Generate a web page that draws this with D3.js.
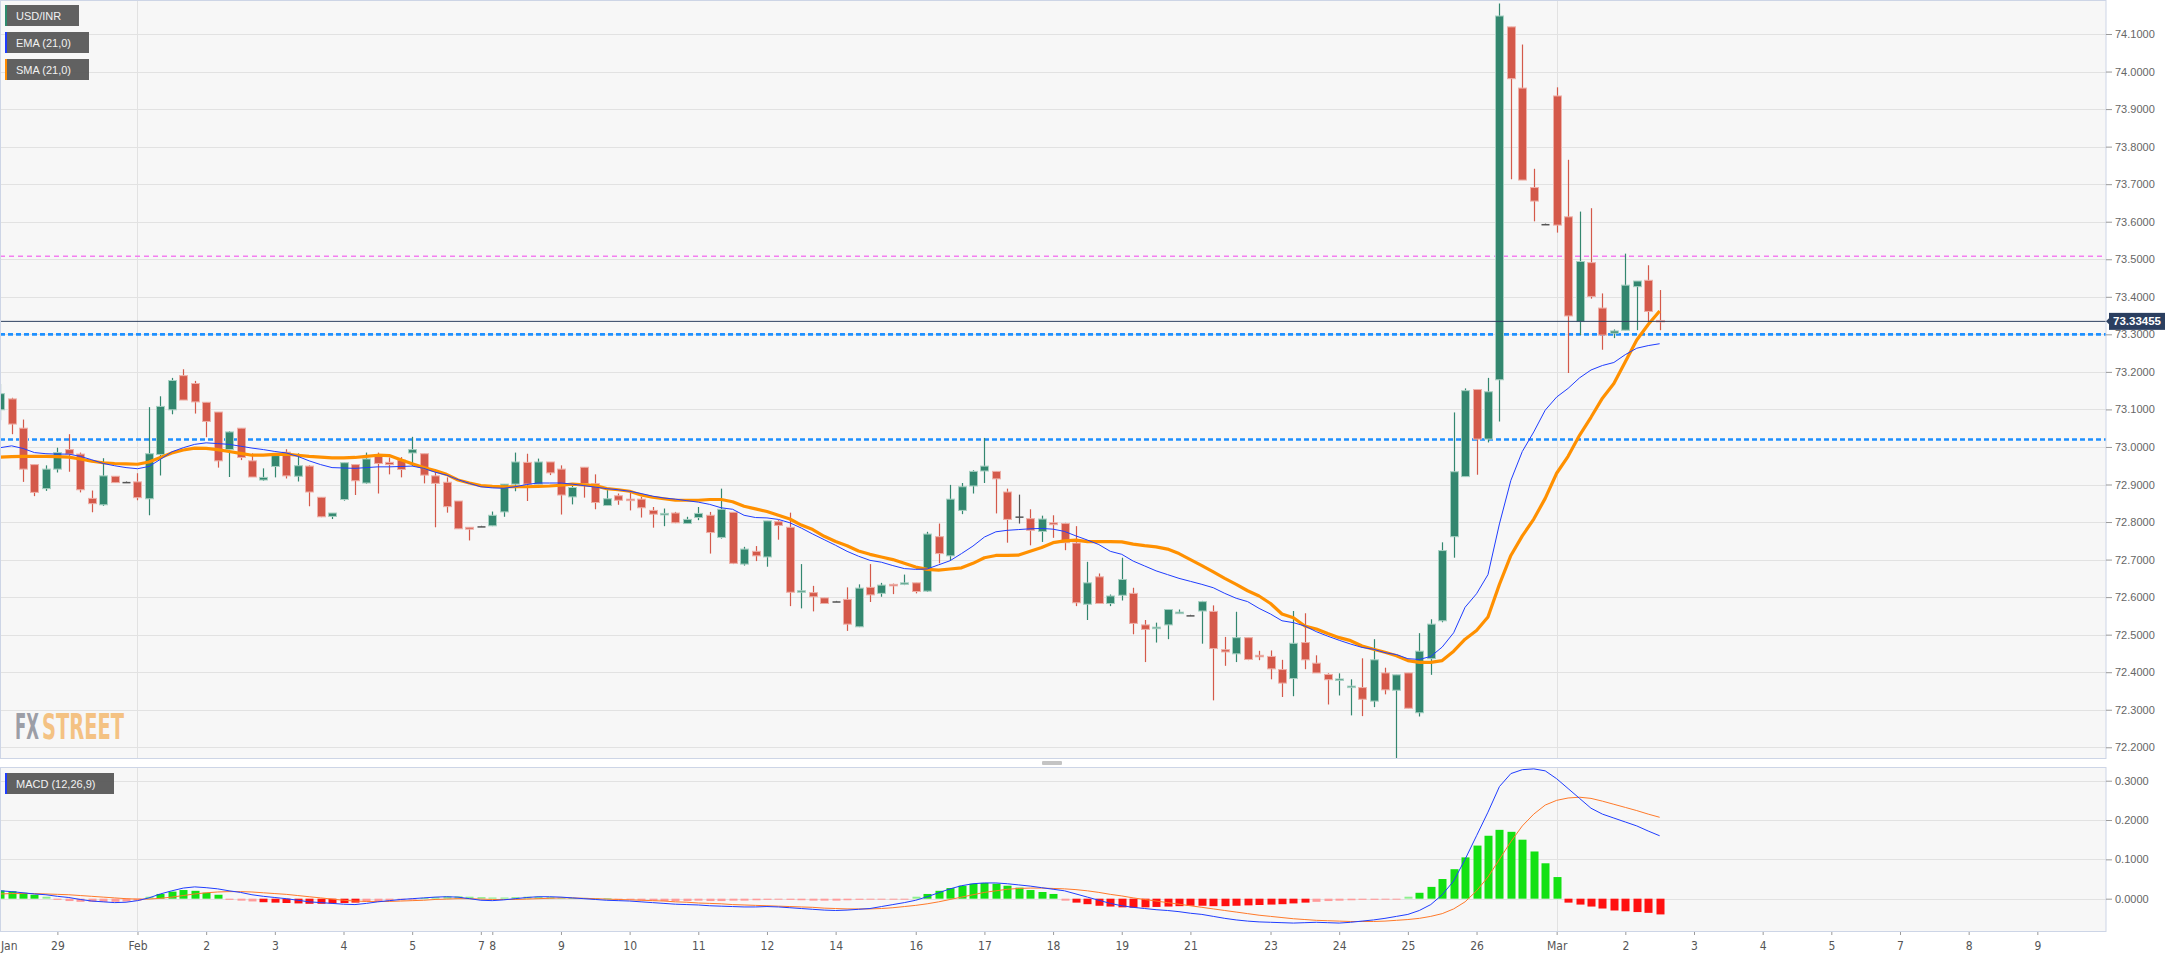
<!DOCTYPE html>
<html><head><meta charset="utf-8">
<script src="https://cdn.jsdelivr.net/npm/d3@7"></script>
<style>
body{margin:0;background:#fff;}
text{font-family:Arial,"Liberation Sans",sans-serif;}
</style>
</head><body>
<svg id="c" width="2183" height="958"></svg>
<script>
// ---------------- DATA ----------------
const opens = [73.099,73.128,73.050,72.953,72.889,72.941,72.993,72.981,72.863,72.846,72.922,72.907,72.907,72.862,72.980,73.099,73.190,73.169,73.119,73.093,
72.993,73.050,72.963,72.912,72.948,72.986,72.922,72.949,72.866,72.815,72.860,72.953,72.904,72.975,72.959,72.965,72.984,72.982,72.923,72.906,
72.856,72.786,72.789,72.790,72.827,72.901,72.959,72.901,72.960,72.941,72.867,72.946,72.902,72.844,72.870,72.861,72.861,72.831,72.821,72.824,
72.796,72.812,72.818,72.759,72.826,72.688,72.722,72.707,72.801,72.786,72.614,72.612,72.598,72.589,72.594,72.521,72.626,72.610,72.634,72.634,
72.638,72.616,72.761,72.710,72.831,72.896,72.936,72.935,72.880,72.814,72.809,72.775,72.798,72.796,72.744,72.581,72.654,72.583,72.605,72.610,
72.526,72.517,72.526,72.558,72.552,72.563,72.562,72.460,72.449,72.492,72.445,72.442,72.407,72.383,72.479,72.424,72.394,72.380,72.359,72.359,
72.323,72.398,72.352,72.398,72.292,72.436,72.537,72.761,72.921,73.153,73.021,73.179,74.119,73.956,73.691,73.594,73.935,73.613,73.334,73.491,
73.370,73.303,73.311,73.427,73.444,73.337];
const highs = [73.168,73.131,73.073,72.953,72.951,72.998,73.034,72.985,72.884,72.970,72.922,72.908,72.930,73.106,73.135,73.184,73.207,73.176,73.119,73.093,
73.042,73.050,72.983,72.943,72.981,72.994,72.983,72.951,72.866,72.824,72.958,72.953,72.985,72.985,72.972,72.973,73.027,72.982,72.938,72.919,
72.856,72.786,72.790,72.828,72.901,72.985,72.982,72.969,72.960,72.951,72.898,72.946,72.927,72.885,72.876,72.878,72.867,72.840,72.836,72.827,
72.814,72.840,72.827,72.889,72.826,72.734,72.736,72.803,72.805,72.825,72.688,72.630,72.598,72.590,72.626,72.634,72.688,72.638,72.636,72.660,
72.638,72.774,72.796,72.899,72.904,72.938,73.024,72.935,72.889,72.873,72.834,72.817,72.818,72.798,72.789,72.694,72.663,72.607,72.705,72.625,
72.539,72.532,72.567,72.567,72.553,72.590,72.578,72.494,72.561,72.492,72.457,72.458,72.433,72.563,72.557,72.445,72.397,72.397,72.381,72.437,
72.488,72.412,72.393,72.398,72.504,72.541,72.746,73.092,73.156,73.153,73.184,74.181,74.119,74.072,73.741,73.595,73.958,73.765,73.627,73.636,
73.409,73.313,73.515,73.442,73.484,73.418];
const lows = [73.071,73.034,72.907,72.869,72.883,72.932,72.934,72.879,72.826,72.843,72.905,72.906,72.858,72.818,72.924,73.087,73.125,73.089,73.026,72.945,
72.920,72.965,72.920,72.910,72.919,72.916,72.908,72.842,72.813,72.808,72.857,72.872,72.902,72.876,72.927,72.919,72.949,72.903,72.786,72.825,
72.782,72.751,72.788,72.789,72.814,72.882,72.856,72.901,72.925,72.820,72.847,72.865,72.834,72.843,72.846,72.831,72.812,72.785,72.789,72.797,
72.795,72.805,72.716,72.756,72.688,72.684,72.696,72.681,72.753,72.576,72.570,72.562,72.582,72.588,72.510,72.520,72.587,72.601,72.608,72.632,
72.610,72.614,72.690,72.697,72.821,72.876,72.904,72.823,72.745,72.796,72.738,72.747,72.758,72.725,72.576,72.539,72.583,72.576,72.591,72.501,
72.427,72.479,72.488,72.556,72.551,72.476,72.325,72.417,72.427,72.432,72.432,72.381,72.334,72.336,72.408,72.398,72.314,72.338,72.285,72.283,
72.307,72.341,72.168,72.304,72.282,72.393,72.533,72.705,72.921,72.926,73.012,73.068,73.713,73.711,73.601,73.593,73.571,73.197,73.298,73.395,
73.259,73.290,73.311,73.311,73.326,73.311];
const closes = [73.142,73.061,72.941,72.879,72.941,72.985,72.981,72.886,72.849,72.923,72.905,72.907,72.865,72.982,73.108,73.177,73.125,73.120,73.068,72.963,
73.040,72.972,72.920,72.919,72.977,72.923,72.950,72.880,72.814,72.824,72.958,72.910,72.968,72.956,72.953,72.940,72.993,72.925,72.903,72.841,
72.782,72.781,72.789,72.818,72.901,72.960,72.901,72.960,72.931,72.872,72.892,72.902,72.852,72.862,72.858,72.857,72.838,72.821,72.823,72.798,
72.807,72.823,72.772,72.834,72.690,72.728,72.710,72.803,72.791,72.613,72.617,72.601,72.583,72.589,72.528,72.624,72.606,72.632,72.630,72.638,
72.615,72.768,72.716,72.861,72.894,72.935,72.949,72.915,72.807,72.815,72.778,72.808,72.793,72.745,72.585,72.638,72.583,72.603,72.647,72.530,
72.514,72.520,72.567,72.560,72.552,72.588,72.463,72.454,72.492,72.434,72.442,72.409,72.371,72.477,72.433,72.398,72.380,72.382,72.363,72.328,
72.433,72.353,72.393,72.304,72.456,72.528,72.724,72.934,73.150,73.021,73.147,74.148,73.981,73.711,73.655,73.594,73.591,73.349,73.494,73.401,
73.298,73.309,73.431,73.442,73.361,73.334];

const ema21 = [72.998,73.003,72.996,72.985,72.982,72.981,72.981,72.975,72.966,72.956,72.950,72.945,72.942,72.948,72.967,72.987,72.998,73.007,73.011,73.009,
73.007,73.002,72.997,72.993,72.988,72.984,72.975,72.963,72.953,72.945,72.944,72.943,72.945,72.947,72.947,72.948,72.949,72.943,72.933,72.925,
72.913,72.903,72.894,72.891,72.890,72.894,72.900,72.904,72.904,72.904,72.901,72.897,72.893,72.889,72.886,72.882,72.876,72.869,72.864,72.861,
72.857,72.853,72.847,72.838,72.834,72.818,72.812,72.811,72.807,72.798,72.784,72.768,72.753,72.738,72.722,72.709,72.698,72.693,72.684,72.676,
72.674,72.675,72.686,72.697,72.716,72.736,72.760,72.774,72.778,72.780,72.782,72.783,72.781,72.775,72.763,72.752,72.740,72.722,72.714,72.696,
72.683,72.670,72.660,72.650,72.642,72.634,72.625,72.610,72.597,72.588,72.570,72.555,72.537,72.532,72.523,72.508,72.496,72.485,72.475,72.466,
72.461,72.452,72.447,72.436,72.434,72.442,72.467,72.505,72.573,72.609,72.660,72.795,72.911,72.988,73.040,73.098,73.133,73.156,73.184,73.205,
73.217,73.225,73.246,73.263,73.270,73.275];
const sma21 = [72.973,72.974,72.975,72.975,72.975,72.974,72.973,72.968,72.962,72.958,72.956,72.955,72.954,72.960,72.972,72.984,72.992,72.997,72.996,72.993,
72.988,72.983,72.978,72.978,72.980,72.981,72.978,72.975,72.973,72.971,72.971,72.972,72.975,72.978,72.977,72.966,72.955,72.945,72.937,72.927,
72.912,72.904,72.897,72.895,72.894,72.894,72.894,72.895,72.896,72.898,72.901,72.899,72.897,72.889,72.886,72.882,72.872,72.866,72.862,72.858,
72.858,72.858,72.860,72.860,72.854,72.842,72.835,72.828,72.818,72.808,72.792,72.780,72.762,72.748,72.737,72.723,72.714,72.707,72.700,72.690,
72.680,72.674,72.672,72.675,72.678,72.690,72.705,72.711,72.711,72.712,72.722,72.732,72.745,72.750,72.752,72.748,72.748,72.748,72.747,72.741,
72.737,72.734,72.728,72.716,72.700,72.684,72.667,72.650,72.634,72.617,72.603,72.583,72.555,72.545,72.523,72.515,72.503,72.492,72.484,72.470,
72.461,72.453,72.444,72.431,72.426,72.426,72.431,72.456,72.488,72.511,72.547,72.634,72.711,72.763,72.808,72.863,72.930,72.975,73.031,73.079,
73.130,73.169,73.227,73.285,73.326,73.362];

const macdLine = [0.020,0.018,0.015,0.012,0.010,0.006,0.003,-0.002,-0.006,-0.008,
-0.010,-0.009,-0.005,0.002,0.012,0.020,0.027,0.030,0.028,0.025,
0.020,0.016,0.010,0.006,0.003,0.000,-0.004,-0.008,-0.010,-0.012,
-0.014,-0.015,-0.012,-0.008,-0.005,-0.002,0.000,0.002,0.004,0.005,
0.004,0.000,-0.004,-0.005,-0.003,0.000,0.003,0.005,0.005,0.004,
0.002,0.000,-0.002,-0.004,-0.005,-0.006,-0.008,-0.010,-0.012,-0.014,
-0.015,-0.016,-0.018,-0.019,-0.020,-0.021,-0.021,-0.020,-0.021,-0.023,
-0.025,-0.027,-0.029,-0.030,-0.029,-0.027,-0.025,-0.020,-0.015,-0.010,
-0.004,0.005,0.015,0.025,0.033,0.038,0.040,0.040,0.038,0.035,
0.032,0.028,0.024,0.020,0.012,0.004,-0.004,-0.012,-0.018,-0.022,
-0.025,-0.028,-0.030,-0.033,-0.037,-0.040,-0.045,-0.050,-0.054,-0.057,
-0.059,-0.060,-0.061,-0.062,-0.061,-0.060,-0.061,-0.062,-0.060,-0.057,
-0.054,-0.050,-0.045,-0.040,-0.030,-0.015,0.010,0.045,0.100,0.160,
0.220,0.285,0.318,0.328,0.330,0.325,0.305,0.280,0.255,0.230,
0.215,0.205,0.195,0.185,0.172,0.160];
const signalLine = [0.012,0.013,0.013,0.013,0.012,0.011,0.010,0.008,0.006,0.004,
0.002,0.000,-0.001,-0.001,0.001,0.004,0.008,0.012,0.015,0.017,
0.018,0.018,0.017,0.015,0.013,0.011,0.008,0.005,0.002,-0.001,
-0.004,-0.006,-0.007,-0.007,-0.007,-0.006,-0.005,-0.004,-0.002,-0.001,
0.000,0.000,-0.001,-0.002,-0.002,-0.002,-0.001,0.000,0.001,0.002,
0.002,0.001,0.000,-0.001,-0.002,-0.003,-0.004,-0.005,-0.006,-0.008,
-0.009,-0.011,-0.012,-0.013,-0.015,-0.016,-0.017,-0.018,-0.019,-0.020,
-0.021,-0.022,-0.024,-0.025,-0.026,-0.026,-0.026,-0.025,-0.023,-0.020,
-0.017,-0.013,-0.008,-0.002,0.004,0.010,0.016,0.020,0.024,0.026,
0.027,0.027,0.026,0.025,0.023,0.020,0.016,0.011,0.007,0.002,
-0.002,-0.006,-0.010,-0.014,-0.018,-0.022,-0.026,-0.030,-0.034,-0.038,
-0.042,-0.045,-0.048,-0.051,-0.053,-0.055,-0.056,-0.057,-0.058,-0.058,
-0.058,-0.057,-0.055,-0.053,-0.050,-0.045,-0.038,-0.026,-0.008,0.020,
0.055,0.100,0.145,0.185,0.215,0.238,0.250,0.256,0.258,0.255,
0.248,0.240,0.232,0.224,0.215,0.207];
const histValues = [0.021,0.019,0.015,0.010,0.005,
-0.003,-0.006,-0.008,-0.008,-0.008,-0.008,-0.007,-0.005,
0.005,0.012,0.018,0.022,0.020,0.015,0.010,
-0.003,-0.005,-0.007,-0.009,-0.010,-0.011,-0.012,-0.013,-0.013,-0.012,-0.011,-0.010,-0.008,-0.006,-0.005,-0.004,-0.002,
0.002,0.004,0.006,0.006,0.005,0.004,0.003,0.003,0.004,0.005,0.005,0.004,0.003,0.002,0.002,0.001,0.001,
-0.002,-0.003,-0.004,-0.005,-0.006,-0.006,-0.006,-0.005,-0.006,-0.006,-0.005,-0.005,-0.004,-0.003,-0.002,-0.003,-0.004,-0.005,-0.005,-0.005,-0.004,-0.003,-0.002,-0.001,-0.001,-0.001,
0.005,0.012,0.020,0.027,0.033,0.038,0.040,0.038,0.033,0.028,0.022,0.017,0.012,
-0.005,-0.010,-0.014,-0.018,-0.020,-0.022,-0.023,-0.022,-0.021,-0.020,-0.019,-0.018,-0.018,-0.019,-0.019,-0.018,-0.017,-0.016,-0.015,-0.014,-0.012,-0.010,-0.008,-0.006,-0.005,-0.004,-0.003,-0.003,-0.002,-0.002,
0.005,0.015,0.030,0.050,0.075,0.105,0.135,0.160,0.175,0.170,0.150,0.120,0.090,0.055,
-0.010,-0.015,-0.020,-0.025,-0.030,-0.032,-0.034,-0.036,-0.040];

const priceTicks = [72.2,72.3,72.4,72.5,72.6,72.7,72.8,72.9,73.0,73.1,73.2,73.3,73.4,73.5,73.6,73.7,73.8,73.9,74.0,74.1];
const macdTicks = [0.0,0.1,0.2,0.3];
const xTickIdx = [0.75,5,12,18,24,30,36,42,43,49,55,61,67,73,80,86,92,98,104,111,117,123,129,136,142,148,154,160,166,172,178];
const xTickLabels = ["Jan","29","Feb","2","3","4","5","7","8","9","10","11","12","14","16","17","18","19","21","23","24","25","26","Mar","2","3","4","5","7","8","9"];
const monthLineIdx = [12,136];
const levelLines = [{v:73.508,kind:"pink"},{v:73.3,kind:"blue"},{v:73.02,kind:"blue"}];
const lastPrice = 73.33455;
const legendItems = [{label:"USD/INR",color:"#2e8b6e"},{label:"EMA (21,0)",color:"#1f3dff"},{label:"SMA (21,0)",color:"#ff8c00"}];

// ---------------- LAYOUT ----------------
const svg = d3.select("#c");
const W = 2183, H = 958;
const plotR = 2106;
const main = {top:0, bottom:759};
const sub = {top:767, bottom:932};

const x = d3.scaleLinear().domain([-0.014,184]).range([0,plotR]);
const y = d3.scaleLinear().domain([72.1688,74.1906]).range([main.bottom, main.top]);
const ym = d3.scaleLinear().domain([-0.0847,0.3348]).range([sub.bottom, sub.top]);

svg.append("rect").attr("width",W).attr("height",H).attr("fill","#fff");

[main, sub].forEach(p=>{
  svg.append("rect").attr("x",0).attr("y",p.top).attr("width",plotR).attr("height",p.bottom-p.top)
    .attr("fill","#f7f7f7");
});

// grid
const grid = svg.append("g");
grid.selectAll(".hg").data(priceTicks).enter().append("line")
  .attr("x1",0).attr("x2",plotR).attr("y1",d=>Math.round(y(d))+0.5).attr("y2",d=>Math.round(y(d))+0.5)
  .attr("stroke","#e2e2e2").attr("stroke-width",1);
grid.selectAll(".hm").data(macdTicks).enter().append("line")
  .attr("x1",0).attr("x2",plotR).attr("y1",d=>Math.round(ym(d))+0.5).attr("y2",d=>Math.round(ym(d))+0.5)
  .attr("stroke","#e2e2e2").attr("stroke-width",1);
[main, sub].forEach(p=>{
  grid.selectAll(null).data(monthLineIdx).enter().append("line")
    .attr("x1",d=>Math.round(x(d))+0.5).attr("x2",d=>Math.round(x(d))+0.5)
    .attr("y1",p.top).attr("y2",p.bottom).attr("stroke","#e2e2e2");
});

// watermark: two parts, each scaled horizontally to its target width
function wmPart(str, x0, target, color){
  const t = svg.append("text").attr("x",0).attr("y",0)
    .style("font-family","'DejaVu Sans Condensed','DejaVu Sans',sans-serif").style("font-weight","bold")
    .style("font-size","36px").attr("fill",color).text(str);
  const w = t.node().getComputedTextLength() || target;
  t.attr("transform",`translate(${x0},739) scale(${target/w},1)`);
}
wmPart("FX",15,24,"#9c9ea6");
wmPart("STREET",42,82,"#f4c283");

svg.append("clipPath").attr("id","clipMain").append("rect").attr("x",0).attr("y",main.top).attr("width",plotR).attr("height",main.bottom-main.top);
svg.append("clipPath").attr("id","clipSub").append("rect").attr("x",0).attr("y",sub.top).attr("width",plotR).attr("height",sub.bottom-sub.top);

const gm = svg.append("g").attr("clip-path","url(#clipMain)");

gm.selectAll(".lvl").data(levelLines).enter().append("line")
  .attr("x1",0).attr("x2",plotR).attr("y1",d=>y(d.v)).attr("y2",d=>y(d.v))
  .attr("stroke",d=>d.kind==="pink"?"#f47ef0":"#1e90ff")
  .attr("stroke-width",d=>d.kind==="pink"?1.3:2.6)
  .attr("stroke-dasharray",d=>d.kind==="pink"?"5,4":"5,3");

// candles
const idx = d3.range(closes.length);
const bodyW = 8;
function cType(i){ const d = closes[i]-opens[i]; if (Math.abs(d)<0.0015) return "doji"; return d>0?"up":"down"; }
const fillC = {up:"#33876f", down:"#d4594a", doji:"#555"};
const strokeC = {up:"#a7d0c2", down:"#eeb0a8", doji:"#555"};
const wickC = {up:"#33876f", down:"#d4594a", doji:"#555"};
gm.selectAll(".wick").data(idx).enter().append("line")
  .attr("x1",i=>Math.round(x(i))+0.5).attr("x2",i=>Math.round(x(i))+0.5)
  .attr("y1",i=>y(highs[i])).attr("y2",i=>y(lows[i]))
  .attr("stroke",i=>wickC[cType(i)]).attr("stroke-width",1.2);
gm.selectAll(".body").data(idx).enter().append("rect")
  .attr("x",i=>Math.round(x(i))-bodyW/2+0.5).attr("width",bodyW)
  .attr("y",i=>y(Math.max(opens[i],closes[i])))
  .attr("height",i=>Math.max(1.5,Math.abs(y(opens[i])-y(closes[i]))))
  .attr("fill",i=>fillC[cType(i)])
  .attr("stroke",i=>cType(i)==="doji"?"none":strokeC[cType(i)]).attr("stroke-width",1);

const lineGen = arr => d3.line().x((d,i)=>x(i)).y(d=>y(d))(arr);
gm.append("path").attr("d",lineGen(sma21)).attr("fill","none").attr("stroke","#ff9000").attr("stroke-width",3.2).attr("stroke-linejoin","round");
gm.append("path").attr("d",lineGen(ema21)).attr("fill","none").attr("stroke","#1f3dff").attr("stroke-width",1);

gm.append("line").attr("x1",0).attr("x2",plotR).attr("y1",y(lastPrice)).attr("y2",y(lastPrice))
  .attr("stroke","#2b3f60").attr("stroke-width",1);

// MACD panel
const gs = svg.append("g").attr("clip-path","url(#clipSub)");
function histColor(i){
  const v = histValues[i];
  const strong = Math.abs(v) >= 0.009;
  if (v>=0) return strong?"#13e113":"#8ef08e";
  return strong?"#ff1010":"#ff9b9b";
}
gs.selectAll(".hb").data(idx).enter().append("rect")
  .attr("x",i=>Math.round(x(i))-4+0.5).attr("width",8)
  .attr("y",i=>Math.min(ym(0),ym(histValues[i])))
  .attr("height",i=>Math.max(1,Math.abs(ym(histValues[i])-ym(0))))
  .attr("fill",histColor);
const lineM = arr => d3.line().x((d,i)=>x(i)).y(d=>ym(d))(arr);
gs.append("path").attr("d",lineM(signalLine)).attr("fill","none").attr("stroke","#ff7a2a").attr("stroke-width",1);
gs.append("path").attr("d",lineM(macdLine)).attr("fill","none").attr("stroke","#1f3dff").attr("stroke-width",1);

[main, sub].forEach(p=>{
  svg.append("rect").attr("x",0.5).attr("y",p.top+0.5).attr("width",plotR-0.5).attr("height",p.bottom-p.top-1)
    .attr("fill","none").attr("stroke","#cdd5e6").attr("stroke-width",1);
});

// axes
const yAxis = d3.axisRight(y).tickValues(priceTicks).tickFormat(d3.format(".4f")).tickSize(6).tickPadding(3);
const ya = svg.append("g").attr("transform",`translate(${plotR},0)`).call(yAxis);
const ymAxis = d3.axisRight(ym).tickValues(macdTicks).tickFormat(d3.format(".4f")).tickSize(6).tickPadding(3);
const yma = svg.append("g").attr("transform",`translate(${plotR},0)`).call(ymAxis);
[ya,yma].forEach(g=>{
  g.select(".domain").remove();
  g.selectAll(".tick line").attr("stroke","#9a9a9a");
  g.selectAll(".tick text").attr("fill","#666").style("font-size","11px").style("font-family","Arial,'Liberation Sans',sans-serif");
});
const xAxis = d3.axisBottom(x).tickValues(xTickIdx).tickFormat((d,i)=>xTickLabels[i]).tickSize(3).tickPadding(6);
const xa = svg.append("g").attr("transform",`translate(0,${sub.bottom})`).call(xAxis);
xa.select(".domain").remove();
xa.selectAll(".tick line").attr("stroke","#9a9a9a");
xa.selectAll(".tick text").attr("fill","#555").style("font-size","12px")
  .style("font-family","'Liberation Sans Narrow','Arial Narrow','DejaVu Sans Condensed',sans-serif");
xa.selectAll(".tick").filter((d,i)=>i===0).select("line").remove();

// last price label
const lpY = y(lastPrice);
const lp = svg.append("g");
lp.append("path").attr("d",`M${plotR},${lpY} L${plotR+4},${lpY-4} L${plotR+4},${lpY+4} Z`).attr("fill","#2b3f60");
lp.append("rect").attr("x",plotR+3).attr("y",lpY-8.5).attr("width",56).attr("height",17).attr("fill","#2b3f60");
lp.append("text").attr("x",plotR+31).attr("y",lpY+4).attr("text-anchor","middle").attr("fill","#fff")
  .style("font-size","11.5px").style("font-weight","bold").text(lastPrice.toFixed(5));

// legends
const lg = svg.append("g");
legendItems.forEach((d,k)=>{
  const top = 5 + k*27;
  const w = k===0?74:84;
  lg.append("rect").attr("x",5).attr("y",top).attr("width",w).attr("height",21).attr("fill","#595959").attr("opacity",0.95);
  lg.append("rect").attr("x",5).attr("y",top).attr("width",2).attr("height",21).attr("fill",d.color);
  lg.append("text").attr("x",16).attr("y",top+14.5).attr("fill","#f2f2f2").style("font-size","11px").text(d.label);
});
lg.append("rect").attr("x",5).attr("y",773).attr("width",109).attr("height",21).attr("fill","#595959").attr("opacity",0.95);
lg.append("rect").attr("x",5).attr("y",773).attr("width",2).attr("height",21).attr("fill","#1f3dff");
lg.append("text").attr("x",16).attr("y",787.5).attr("fill","#f2f2f2").style("font-size","11px").text("MACD (12,26,9)");

svg.append("rect").attr("x",1042).attr("y",761).attr("width",20).attr("height",4).attr("rx",1).attr("fill","#c4c4c4");
</script>
</body></html>
